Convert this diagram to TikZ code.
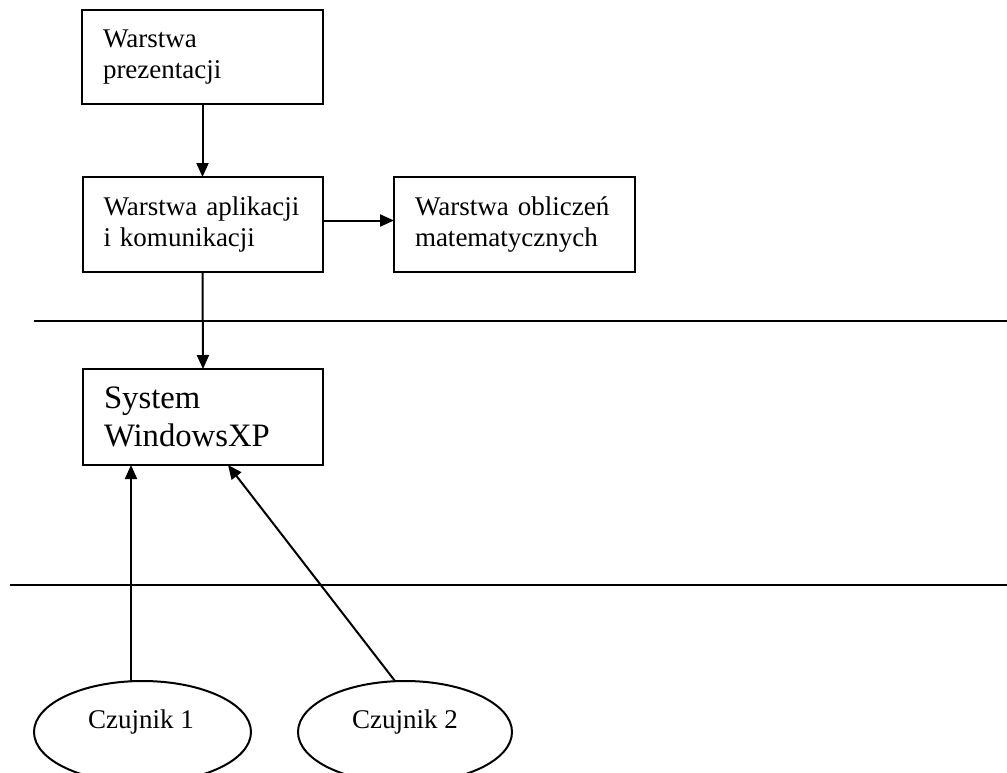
\documentclass[tikz,border=0pt]{standalone}
\usepackage{fontspec}
\setmainfont{Liberation Serif}
\usetikzlibrary{arrows.meta,shapes.geometric}
\begin{document}
\begin{tikzpicture}[x=1pt,y=-1pt,
  every node/.style={inner sep=0pt,outer sep=0pt},
  layer/.style={draw,line width=2pt,rectangle,align=left,
    font=\fontsize{27}{31}\selectfont,inner xsep=21pt},
  bigtext/.style={font=\fontsize{32.7}{38}\selectfont},
  sensor/.style={draw,line width=2pt,ellipse},
  sensortext/.style={font=\fontsize{27}{31}\selectfont,anchor=base},
  arr/.style={line width=2pt,-{Triangle[length=14pt,width=12pt]}},
  sep/.style={line width=2pt}]
\clip (0,0) rectangle (1007,772);
\useasboundingbox (0,0) rectangle (1007,772);

% layer boxes
\node[layer,minimum width=241pt,minimum height=94pt,text width=199pt]
  (pres) at (202.5,57) {Warstwa\\prezentacji};
\node[layer,minimum width=240pt,minimum height=95pt,text width=198pt]
  (app) at (202.5,224.5) {Warstwa aplikacji\\i komunikacji};
\node[layer,minimum width=241pt,minimum height=95pt,text width=199pt]
  (math) at (514.5,224.5) {Warstwa obliczeń\\matematycznych};
\node[layer,bigtext,minimum width=240pt,minimum height=96pt,text width=198pt]
  (sys) at (203,417) {System\\WindowsXP};

% sensors
\node[sensor,minimum width=217pt,minimum height=102pt] (c1) at (142.5,732) {};
\node[sensor,minimum width=214pt,minimum height=102pt] (c2) at (405,732) {};
\node[sensortext] (t1) at (141,728) {Czujnik 1};
\node[sensortext] (t2) at (405,728) {Czujnik 2};

% separator lines
\coordinate (s1a) at (34,321);
\coordinate (s1b) at (1007,321);
\coordinate (s2a) at (10,585);
\coordinate (s2b) at (1007,585);
\draw[sep] (s1a) -- (s1b);
\draw[sep] (s2a) -- (s2b);

% connectors
\draw[arr] (pres.south) -- (app.north);
\draw[arr] ([yshift=4pt]app.east) -- ([yshift=4pt]math.west);
\draw[arr] (app.south) -- (sys.north);
\draw[arr] ([xshift=-11.5pt]c1.north) -- ([xshift=-72pt]sys.south);
\draw[arr] ([xshift=-10pt]c2.north) -- ([xshift=25pt]sys.south);
\end{tikzpicture}
\end{document}
